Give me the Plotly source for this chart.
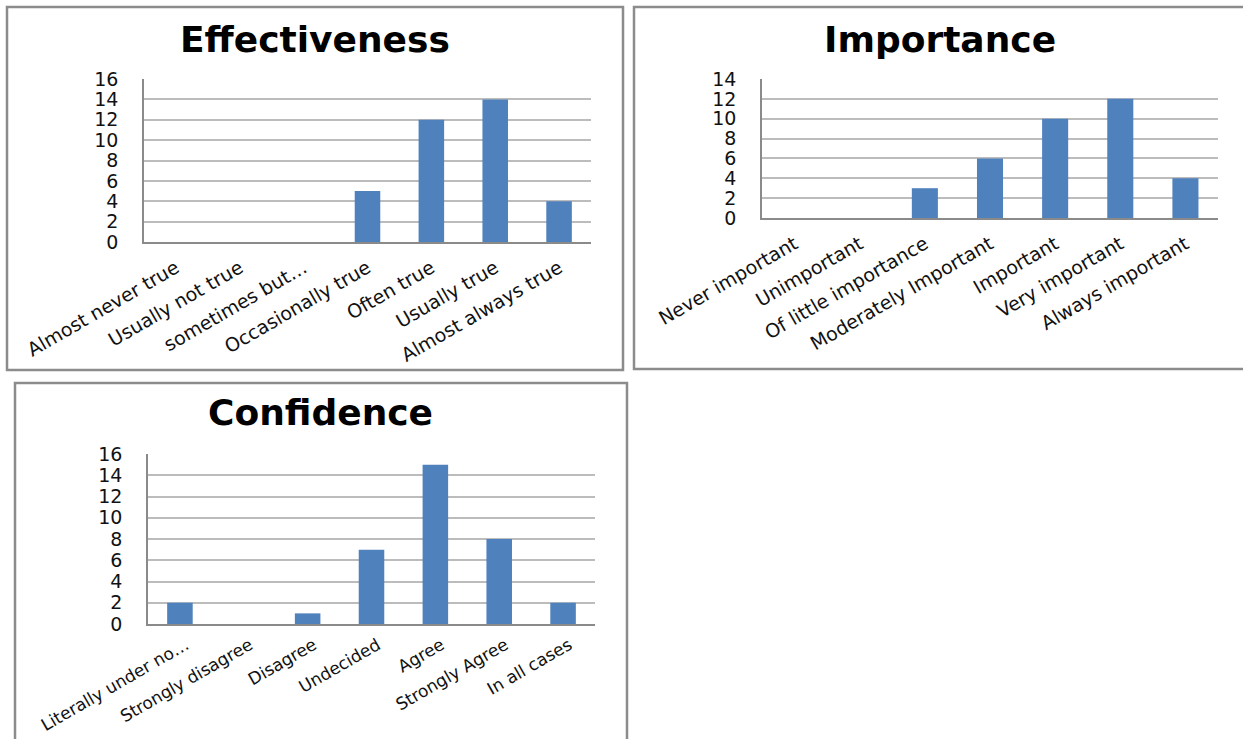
import plotly.graph_objects as go

W, H = 1243, 739

eff_cats = ["Almost never true", "Usually not true", "sometimes but…", "Occasionally true",
            "Often true", "Usually true", "Almost always true"]
eff_vals = [0, 0, 0, 5, 12, 14, 4]

imp_cats = ["Never important", "Unimportant", "Of little importance", "Moderately Important",
            "Important", "Very important", "Always important"]
imp_vals = [0, 0, 3, 6, 10, 12, 4]

conf_cats = ["Literally under no…", "Strongly disagree", "Disagree", "Undecided",
             "Agree", "Strongly Agree", "In all cases"]
conf_vals = [2, 0, 1, 7, 15, 8, 2]

BAR = "#4F81BD"
GRID = "#bcbcbc"
AXL = "#8a8a8a"
FONT = "DejaVu Sans"


def fx(x):
    return x / W


def fy(y):
    return 1 - y / H


fig = go.Figure()
fig.add_trace(go.Bar(x=eff_cats, y=eff_vals, marker=dict(color=BAR, line=dict(width=0)),
                     xaxis="x", yaxis="y"))
fig.add_trace(go.Bar(x=imp_cats, y=imp_vals, marker=dict(color=BAR, line=dict(width=0)),
                     xaxis="x2", yaxis="y2"))
fig.add_trace(go.Bar(x=conf_cats, y=conf_vals, marker=dict(color=BAR, line=dict(width=0)),
                     xaxis="x3", yaxis="y3"))


def xax(dom, anchor, size=19, shift=0, standoff=6):
    return dict(domain=dom, anchor=anchor, showline=True, linecolor=AXL, linewidth=1.5,
                showgrid=False, ticks="", tickangle=-30, ticklabelstandoff=standoff,
                ticklabelshift=shift, automargin=False,
                tickfont=dict(family=FONT, size=size, color="#111"), fixedrange=True)


def yax(dom, anchor, top):
    return dict(domain=dom, anchor=anchor, range=[0, top], dtick=2, showline=True,
                linecolor=AXL, linewidth=1.5, showgrid=True, gridcolor=GRID, gridwidth=1.5,
                zeroline=False, ticks="", ticklabelstandoff=20, automargin=False,
                tickfont=dict(family=FONT, size=19, color="#111"), fixedrange=True)


fig.update_layout(
    width=W, height=H, margin=dict(l=0, r=0, t=0, b=0, autoexpand=False),
    paper_bgcolor="white", plot_bgcolor="white", showlegend=False, bargap=0.6,
    xaxis=xax([fx(144), fx(591)], "y"),
    yaxis=yax([fy(242), fy(79)], "x", 16),
    xaxis2=xax([fx(762), fx(1218)], "y2"),
    yaxis2=yax([fy(218), fy(79)], "x2", 14),
    xaxis3=xax([fx(148), fx(595)], "y3", size=17, shift=6, standoff=3),
    yaxis3=yax([fy(624), fy(454)], "x3", 16),
)

titles = [("Effectiveness", 315, 40), ("Importance", 940, 40), ("Confidence", 320, 413)]
for t, x, y in titles:
    fig.add_annotation(text="<b>%s</b>" % t, x=fx(x), y=fy(y), xref="paper", yref="paper",
                       xanchor="center", yanchor="middle", showarrow=False,
                       font=dict(family=FONT, size=36, color="black"))

boxes = [(7, 7, 623, 370), (634, 7, 1260, 369), (15, 383, 627, 760)]
for x0, y0, x1, y1 in boxes:
    fig.add_shape(type="rect", xref="paper", yref="paper", x0=fx(x0), x1=fx(x1),
                  y0=fy(y1), y1=fy(y0), line=dict(color="#8c8c8c", width=2.5),
                  fillcolor="rgba(0,0,0,0)", layer="below")

fig.write_html("out.html")
